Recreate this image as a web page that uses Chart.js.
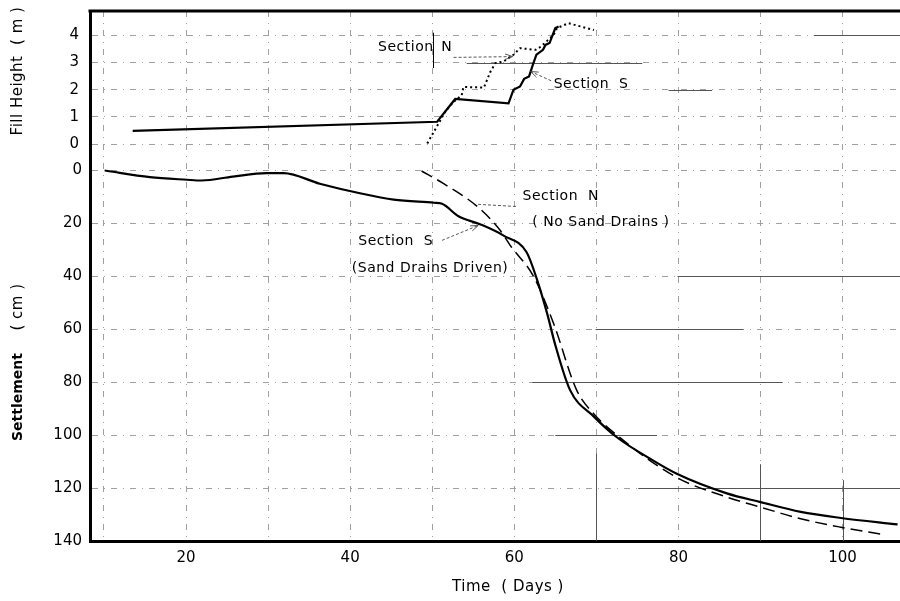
<!DOCTYPE html>
<html>
<head>
<meta charset="utf-8">
<script src="https://cdn.jsdelivr.net/npm/chart.js@4.4.0/dist/chart.umd.min.js"></script>
<style>
html,body{margin:0;padding:0;background:#fff}
#wrap{width:900px;height:601px;position:relative}
</style>
</head>
<body>
<div id="wrap"><canvas id="c"></canvas></div>
<script>
// ---------- data ----------
const fillDaysS = [13.5, 50.6, 52.8, 59.3, 59.9, 60.7, 61.2, 61.8, 62.3, 62.7, 63.5, 63.8, 64.3, 64.6, 65.0, 65.4];
const fillS     = [0.48, 0.82, 1.66, 1.50, 2.00, 2.12, 2.40, 2.49, 2.95, 3.29, 3.47, 3.65, 3.72, 3.96, 4.27, 4.33];

const fillDaysN = [49.4, 50.2, 51.6, 52.6, 53.6, 53.8, 56.3, 57.1, 57.7, 58.7, 59.9, 60.7, 62.6, 63.3, 64.0, 64.8, 65.2, 66.6, 69.7];
const fillN     = [0.02, 0.45, 1.20, 1.55, 1.80, 2.10, 2.08, 2.67, 2.98, 3.04, 3.29, 3.53, 3.47, 3.60, 3.80, 4.02, 4.27, 4.45, 4.20];

const settleDaysS = [10.1, 15.6, 20.1, 21.9, 25.7, 29.8, 31.9, 36.3, 41.2, 45.3, 50.2, 51.2, 53.2, 55.9, 58.7, 61.5, 62.8, 64.0, 65.0, 66.8, 69.7, 72.5, 76.6, 79.8, 85.9, 90.0, 94.9, 99.8, 106.7];
const settleS     = [0, 2.5, 3.5, 3.8, 2.3, 1.0, 1.0, 5.0, 8.6, 11.0, 12.2, 12.6, 17.3, 20.4, 24.6, 30.9, 41.5, 54, 66, 83, 93, 100.8, 109, 114.6, 122, 125.3, 129, 131.3, 133.7];

const settleDaysN = [48.7, 51.4, 55.6, 58.3, 59.5, 62.4, 64.8, 67.6, 69.7, 72.5, 79.8, 85.9, 90.0, 94.9, 99.8, 104.8];
const settleN     = [0.2, 5, 13.9, 22.7, 28.3, 40.3, 57.9, 83, 92, 100, 116, 123.4, 127.2, 131.6, 134.8, 137.5];

const xTicks      = [10, 20, 30, 40, 50, 60, 70, 80, 90, 100];
const xLabelTicks = [20, 40, 60, 80, 100];
const fillTicks   = [0, 1, 2, 3, 4];
const settleTicks = [0, 20, 40, 60, 80, 100, 120, 140];

// ---------- annotations (data coordinates) ----------
const notes = [
  {axis:'yFill',   x:43.4, y:3.56, text:'Section'},
  {axis:'yFill',   x:51.1, y:3.56, text:'N'},
  {axis:'yFill',   x:64.8, y:2.19, text:'Section  S'},
  {axis:'ySettle', x:61.0, y:9.8,  text:'Section  N'},
  {axis:'ySettle', x:62.2, y:19.6, text:'( No Sand Drains )'},
  {axis:'ySettle', x:41.0, y:26.8, text:'Section  S'},
  {axis:'ySettle', x:40.2, y:37,   text:'(Sand Drains Driven)'}
];
const leaders = [
  {axis:'yFill',   x1:52.6, y1:3.19, x2:59.8, y2:3.22, arrow:true},
  {axis:'yFill',   x1:64.5, y1:2.33, x2:62.0, y2:2.67, arrow:true},
  {axis:'ySettle', x1:60.2, y1:13.6, x2:55.6, y2:12.8, arrow:false},
  {axis:'ySettle', x1:51.2, y1:26.4, x2:55.6, y2:20.8, arrow:true}
];
const barMark = {axis:'yFill', x:50.1, y1:4.1, y2:2.8};
const hGridSegs = [
  {axis:'yFill', y:3, x1:54.2, x2:75.6},
  {axis:'yFill', y:2, x1:78.8, x2:84.1},
  {axis:'yFill', y:4, x1:96.5, x2:107},
  {axis:'ySettle', y:40, x1:79.9, x2:107},
  {axis:'ySettle', y:60, x1:69.9, x2:87.9},
  {axis:'ySettle', y:80, x1:62.2, x2:92.7},
  {axis:'ySettle', y:100, x1:65, x2:77.4},
  {axis:'ySettle', y:120, x1:75.1, x2:107}
];
const vGridSegs = [
  {x:70, y1:107, y2:140},
  {x:90, y1:111, y2:140},
  {x:100, y1:117, y2:140}
];

const pts = (xs, ys) => xs.map((x, i) => ({x: x, y: ys[i]}));
const FONT = "'DejaVu Sans', 'Liberation Sans', sans-serif";

const decor = {
  id: 'decor',
  beforeDatasetsDraw(chart) {
    const ctx = chart.ctx, xs = chart.scales.x;
    ctx.save();
    ctx.strokeStyle = '#555';
    ctx.lineWidth = 1;
    hGridSegs.forEach(s => {
      const ys = chart.scales[s.axis];
      const y = Math.round(ys.getPixelForValue(s.y)) + 0.5;
      ctx.beginPath();
      ctx.moveTo(xs.getPixelForValue(s.x1), y);
      ctx.lineTo(Math.min(xs.getPixelForValue(s.x2), chart.chartArea.right), y);
      ctx.stroke();
    });
    vGridSegs.forEach(s => {
      const ys = chart.scales.ySettle;
      const x = Math.round(xs.getPixelForValue(s.x)) + 0.5;
      ctx.beginPath();
      ctx.moveTo(x, ys.getPixelForValue(s.y1));
      ctx.lineTo(x, ys.getPixelForValue(s.y2));
      ctx.stroke();
    });
    ctx.restore();
  },
  afterDatasetsDraw(chart) {
    const ctx = chart.ctx, xs = chart.scales.x, a = chart.chartArea;
    ctx.save();
    // top frame line
    ctx.strokeStyle = '#000';
    ctx.lineWidth = 3;
    ctx.beginPath();
    ctx.moveTo(a.left - 1.5, a.top);
    ctx.lineTo(a.right, a.top);
    ctx.stroke();

    // annotation texts
    ctx.fillStyle = '#000';
    ctx.font = '14px ' + FONT;
    ctx.letterSpacing = '0.5px';
    ctx.textBaseline = 'middle';
    ctx.textAlign = 'left';
    notes.forEach(n => {
      const ys = chart.scales[n.axis];
      ctx.fillText(n.text, xs.getPixelForValue(n.x), ys.getPixelForValue(n.y));
    });
    ctx.letterSpacing = '0px';
    // vertical bar next to "Section"
    ctx.strokeStyle = '#000';
    ctx.lineWidth = 1;
    ctx.beginPath();
    const bx = Math.round(xs.getPixelForValue(barMark.x)) + 0.5;
    ctx.moveTo(bx, chart.scales[barMark.axis].getPixelForValue(barMark.y1));
    ctx.lineTo(bx, chart.scales[barMark.axis].getPixelForValue(barMark.y2));
    ctx.stroke();
    // leader lines
    ctx.strokeStyle = '#444';
    ctx.fillStyle = '#444';
    leaders.forEach(l => {
      const ys = chart.scales[l.axis];
      const x1 = xs.getPixelForValue(l.x1), y1 = ys.getPixelForValue(l.y1);
      const x2 = xs.getPixelForValue(l.x2), y2 = ys.getPixelForValue(l.y2);
      ctx.setLineDash([3, 2]);
      ctx.lineWidth = 0.9;
      ctx.beginPath(); ctx.moveTo(x1, y1); ctx.lineTo(x2, y2); ctx.stroke();
      ctx.setLineDash([]);
      if (l.arrow) {
        const ang = Math.atan2(y2 - y1, x2 - x1), L = 8, W = 0.35;
        ctx.beginPath();
        ctx.moveTo(x2, y2);
        ctx.lineTo(x2 - L * Math.cos(ang - W), y2 - L * Math.sin(ang - W));
        ctx.moveTo(x2, y2);
        ctx.lineTo(x2 - L * Math.cos(ang + W), y2 - L * Math.sin(ang + W));
        ctx.stroke();
      }
    });

    // axis titles
    ctx.fillStyle = '#000';
    ctx.textAlign = 'center';
    ctx.textBaseline = 'middle';
    ctx.font = '15px ' + FONT;
    ctx.letterSpacing = '0.5px';
    ctx.fillText('Time  ( Days )', 508, 587);
    ctx.save();
    ctx.translate(18, 71);
    ctx.rotate(-Math.PI / 2);
    ctx.fillText('Fill Height  ( m )', 0, 0);
    ctx.restore();
    ctx.save();
    ctx.translate(18, 397);
    ctx.rotate(-Math.PI / 2);
    ctx.font = 'bold 14px ' + FONT;
    ctx.letterSpacing = '0px';
    ctx.fillText('Settlement', 0, 0);
    ctx.restore();
    ctx.save();
    ctx.translate(18, 307);
    ctx.rotate(-Math.PI / 2);
    ctx.font = '15px ' + FONT;
    ctx.fillText('( cm )', 0, 0);
    ctx.restore();
    ctx.restore();
  }
};

const gridCommon = {color: '#a0a0a0', lineWidth: 1, drawTicks: false};
const borderCommon = {color: '#000', width: 3, dash: [6, 6, 1, 6]};
const tickFont = {family: FONT, size: 15};
const fitY = s => { s.width = 90; s.paddingTop = 0; s.paddingBottom = 0; };

new Chart(document.getElementById('c'), {
  type: 'line',
  data: {
    datasets: [
      {label: 'Section S fill', data: pts(fillDaysS, fillS), yAxisID: 'yFill',
       borderColor: '#000', borderWidth: 2.2, pointRadius: 0, tension: 0},
      {label: 'Section N fill', data: pts(fillDaysN, fillN), yAxisID: 'yFill',
       borderColor: '#000', borderWidth: 2, borderDash: [2, 3], pointRadius: 0, tension: 0},
      {label: 'Section S settlement', data: pts(settleDaysS, settleS), yAxisID: 'ySettle',
       borderColor: '#000', borderWidth: 2.2, pointRadius: 0, cubicInterpolationMode: 'monotone'},
      {label: 'Section N settlement', data: pts(settleDaysN, settleN), yAxisID: 'ySettle',
       borderColor: '#000', borderWidth: 1.5, borderDash: [12, 6], pointRadius: 0, cubicInterpolationMode: 'monotone'}
    ]
  },
  options: {
    responsive: true,
    maintainAspectRatio: false,
    devicePixelRatio: 1,
    animation: false,
    layout: {padding: {top: 11, right: 0, left: 0, bottom: 0}},
    plugins: {legend: {display: false}, title: {display: false}, tooltip: {enabled: false}},
    scales: {
      x: {
        type: 'linear', position: 'bottom', min: 8.3, max: 107,
        afterBuildTicks: s => { s.ticks = xTicks.map(v => ({value: v})); },
        afterFit: s => { s.height = 60; s.paddingLeft = 0; s.paddingRight = 0; },
        grid: gridCommon,
        border: borderCommon,
        ticks: {color: '#000', font: tickFont, padding: 8, autoSkip: false, maxRotation: 0,
                callback: v => xLabelTicks.includes(v) ? String(v) : ''}
      },
      ySettle: {
        type: 'linear', position: 'left', stack: 'left', stackWeight: 397,
        reverse: true, min: -10, max: 140,
        afterBuildTicks: s => { s.ticks = settleTicks.map(v => ({value: v})); },
        afterFit: fitY,
        grid: gridCommon,
        border: borderCommon,
        ticks: {color: '#000', font: tickFont, padding: 8, autoSkip: false, callback: v => String(v)}
      },
      yFill: {
        type: 'linear', position: 'left', stack: 'left', stackWeight: 133,
        min: 0, max: 4.9,
        afterBuildTicks: s => { s.ticks = fillTicks.map(v => ({value: v})); },
        afterFit: fitY,
        grid: gridCommon,
        border: borderCommon,
        ticks: {color: '#000', font: tickFont, padding: 11, autoSkip: false, callback: v => String(v)}
      }
    }
  },
  plugins: [decor]
});
</script>
</body>
</html>
